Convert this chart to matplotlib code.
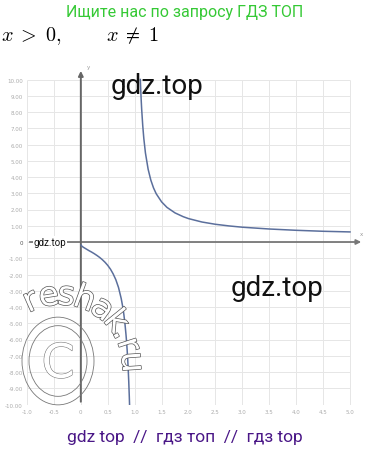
import numpy as np
import matplotlib
matplotlib.use("Agg")
import matplotlib.pyplot as plt
import matplotlib.patheffects as pe
from matplotlib.patches import Circle

# === Data (y = 1/ln x) ===
x_left = [0.005, 0.02, 0.05, 0.1, 0.15, 0.2, 0.25, 0.3, 0.35, 0.4, 0.45, 0.5, 0.55, 0.6,
          0.65, 0.7, 0.75, 0.78, 0.8, 0.82, 0.84, 0.85, 0.86, 0.87, 0.88, 0.89, 0.9, 0.905]
y_left = [-0.19, -0.26, -0.33, -0.43, -0.53, -0.62, -0.72, -0.83, -0.95, -1.09, -1.25, -1.44,
          -1.67, -1.96, -2.32, -2.80, -3.48, -4.02, -4.48, -5.04, -5.74, -6.15, -6.63, -7.18,
          -7.82, -8.58, -9.49, -10.0]
x_right = [1.105, 1.11, 1.12, 1.13, 1.15, 1.17, 1.2, 1.25, 1.3, 1.35, 1.4, 1.5, 1.6, 1.75,
           1.9, 2.0, 2.25, 2.5, 2.75, 3.0, 3.5, 4.0, 4.5, 5.0]
y_right = [10.0, 9.58, 8.82, 8.18, 7.16, 6.37, 5.48, 4.48, 3.81, 3.33, 2.97, 2.47, 2.13, 1.79,
           1.56, 1.44, 1.23, 1.09, 0.99, 0.91, 0.80, 0.72, 0.66, 0.62]

x_ticks = [-1.0, -0.5, 0, 0.5, 1.0, 1.5, 2.0, 2.5, 3.0, 3.5, 4.0, 4.5, 5.0]
x_tick_labels = ["-1.0", "-0.5", "0", "0.5", "1.0", "1.5", "2.0", "2.5", "3.0", "3.5", "4.0", "4.5", "5.0"]
y_ticks = list(range(-10, 11))
y_tick_labels = [f"{v:.2f}" if v != 0 else "0" for v in y_ticks]

W, H = 371, 452

def fx(px):
    return px / W

def fy(py):
    return 1 - py / H

# === Figure ===
fig = plt.figure(figsize=(W / 100, H / 100), dpi=100)
plt.rcParams["mathtext.fontset"] = "cm"

# axes: x=-1 -> 27px, x=5 -> 350px ; y=10 -> 80.5px, y=-10 -> 405.5px
xmin, xmax = -1.0, 5.35
ymin, ymax = -10.0, 11.0
sx = (350 - 27) / 6.0
sy = (405.5 - 80.5) / 20.0
left_px = 27
right_px = 27 + (xmax - xmin) * sx
bottom_px = 405.5
top_px = 405.5 - (ymax - ymin) * sy
ax = fig.add_axes([fx(left_px), fy(bottom_px), fx(right_px - left_px), (bottom_px - top_px) / H])
ax.set_xlim(xmin, xmax)
ax.set_ylim(ymin, ymax)
for s in ax.spines.values():
    s.set_visible(False)

# grid
ax.hlines(y_ticks, -1.0, 5.0, color="#e6e6e6", lw=0.7, zorder=1)
ax.vlines(x_ticks, -10, 10, color="#e6e6e6", lw=0.7, zorder=1)

# axes lines with arrows
ax.annotate("", xy=(5.26, 0), xytext=(-1.0, 0),
            arrowprops=dict(arrowstyle="-|>", color="#777777", lw=1.3, mutation_scale=7), zorder=3)
ax.annotate("", xy=(0, 10.7), xytext=(0, -10.0),
            arrowprops=dict(arrowstyle="-|>", color="#666666", lw=1.4, mutation_scale=7), zorder=3)
ax.text(5.22, 0.35, "x", fontsize=4, color="#999999", ha="center", va="bottom")
ax.text(0.15, 10.8, "y", fontsize=4, color="#999999", ha="center", va="center")

# curve
ax.plot(x_left, y_left, color="#5b6f9c", lw=1.1, zorder=4, solid_joinstyle="round")
ax.plot(x_right, y_right, color="#5b6f9c", lw=1.1, zorder=4, solid_joinstyle="round")

# ticks
ax.set_xticks(x_ticks)
ax.set_xticklabels(x_tick_labels)
ax.set_yticks(y_ticks)
ax.set_yticklabels(y_tick_labels)
ax.tick_params(length=0, labelsize=4, labelcolor="#aaaaaa", pad=3)
for lab in ax.get_yticklabels():
    if lab.get_text() == "0":
        lab.set_color("#555555")

# === Header / footer text ===
fig.text(fx(185), fy(12), "Ищите нас по запросу ГДЗ ТОП", fontsize=11.5, color="#35c935",
         family="Roboto", ha="center", va="center")
fig.text(fx(1), fy(36), r"$x\;>\;0,$", fontsize=14.5, ha="left", va="center")
fig.text(fx(106), fy(36), r"$x\;\neq\;1$", fontsize=14.5, ha="left", va="center")
fig.text(fx(185), fy(438), "gdz top  //  гдз топ  //  гдз top", fontsize=12.5, color="#4a1787",
         family="Roboto", ha="center", va="center")

# === Watermarks ===
fig.text(fx(157), fy(86), "gdz.top", fontsize=20, family="Roboto", color="#111111",
         ha="center", va="center", zorder=6)
fig.text(fx(277), fy(288), "gdz.top", fontsize=20, family="Roboto", color="#111111",
         ha="center", va="center", zorder=6)
fig.text(fx(50), fy(243), "gdz.top", fontsize=7, family="Roboto", color="#111111",
         ha="center", va="center", zorder=6,
         bbox=dict(facecolor="white", edgecolor="none", pad=0.5))

outline = [pe.Stroke(linewidth=1.0, foreground="#555555"), pe.Normal()]
cx, cy, r = 60, 368, 72
letters = "reshak.ru"
angles = [114, 99, 85, 70, 54, 39, 29, 18, 4]
for ch, a in zip(letters, angles):
    t = np.radians(a)
    px = cx + r * np.cos(t)
    py = cy - r * np.sin(t)
    fig.text(fx(px), fy(py), ch, fontsize=24, color="white", family="DejaVu Sans",
             rotation=a - 90, ha="center", va="center", zorder=7,
             rotation_mode="anchor", path_effects=outline)

for rad in (36, 29):
    c = Circle((fx(58), fy(362)), rad / W, transform=fig.transFigure, fill=False,
               edgecolor="#777777", lw=0.6, zorder=7)
    fig.add_artist(c)
fig.text(fx(58), fy(366), "C", fontsize=34, color="white", family="DejaVu Sans",
         ha="center", va="center", zorder=7,
         path_effects=[pe.Stroke(linewidth=0.8, foreground="#777777"), pe.Normal()])

fig.savefig("out.png", dpi=100)
